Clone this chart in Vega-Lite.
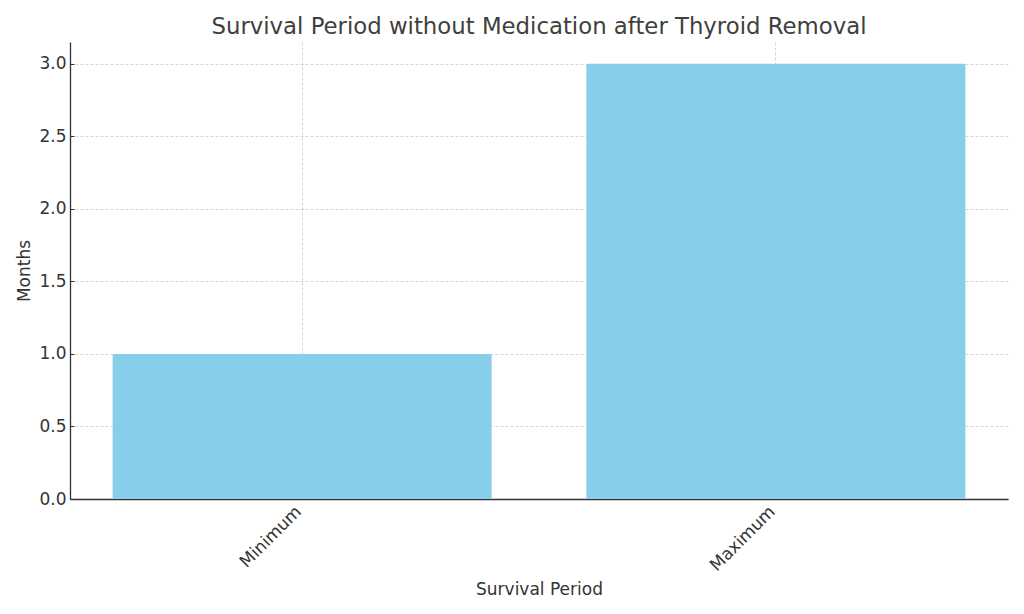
{
  "$schema": "https://vega.github.io/schema/vega-lite/v6.json",
  "width": 938,
  "height": 457,
  "autosize": {"type": "none"},
  "padding": {"left": 70, "top": 42, "right": 16, "bottom": 115},
  "background": "white",
  "title": {
    "text": "Survival Period without Medication after Thyroid Removal",
    "font": "DejaVu Sans",
    "fontSize": 22.8,
    "fontWeight": "normal",
    "color": "#404040",
    "offset": 3,
    "anchor": "middle"
  },
  "config": {
    "view": {"stroke": null},
    "axis": {
      "labelFont": "DejaVu Sans",
      "titleFont": "DejaVu Sans",
      "labelFontSize": 17,
      "titleFontSize": 17,
      "titleFontWeight": "normal",
      "labelColor": "#333333",
      "titleColor": "#333333",
      "domainColor": "#333333",
      "domainWidth": 1.3,
      "tickColor": "#333333",
      "tickSize": -4,
      "gridColor": "#b0b0b0",
      "gridOpacity": 0.65,
      "gridDash": [3, 2],
      "gridWidth": 0.8,
      "zindex": 1
    }
  },
  "data": {
    "values": [
      {"period": "Minimum", "months": 1},
      {"period": "Maximum", "months": 3}
    ]
  },
  "mark": {"type": "bar", "color": "#87CEEB"},
  "encoding": {
    "x": {
      "field": "period",
      "type": "nominal",
      "sort": null,
      "title": "Survival Period",
      "scale": {"paddingInner": 0.2, "paddingOuter": 0.09},
      "axis": {
        "labelAngle": -45,
        "labelAlign": "right",
        "labelBaseline": "top",
        "labelPadding": 8,
        "labelOffset": -9,
        "titlePadding": 8,
        "grid": true
      }
    },
    "y": {
      "field": "months",
      "type": "quantitative",
      "title": "Months",
      "scale": {"domain": [0, 3.15], "nice": false},
      "axis": {
        "values": [0, 0.5, 1, 1.5, 2, 2.5, 3],
        "format": ".1f",
        "labelPadding": 8,
        "titlePadding": 5,
        "grid": true
      }
    }
  }
}
